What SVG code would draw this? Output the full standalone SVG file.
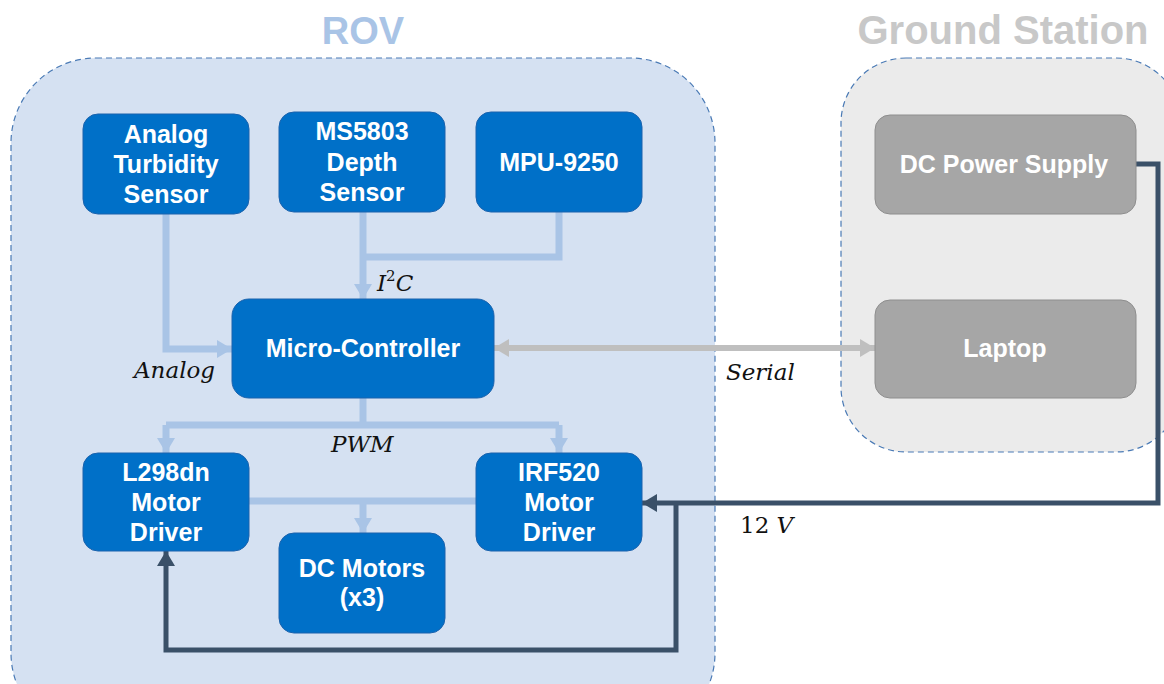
<svg xmlns="http://www.w3.org/2000/svg" width="1164" height="684" viewBox="0 0 1164 684">
<style>
.title{font-family:"Liberation Sans",Arial,sans-serif;font-weight:bold;text-anchor:middle}
.nb rect{fill:#0070c8;stroke:#1a62ad;stroke-width:1}
.ng rect{fill:#a6a6a6;stroke:#8e8e8e;stroke-width:1}
.nt{font-family:"Liberation Sans",Arial,sans-serif;font-weight:bold;font-size:25px;fill:#ffffff;text-anchor:middle}
.lbl{font-family:"DejaVu Serif","Liberation Serif",serif;font-style:italic;font-size:23px;fill:#111111}
.lt{fill:none;stroke:#a9c4e6;stroke-width:7}
.dk{fill:none;stroke:#3a5068;stroke-width:5}
.sr{fill:none;stroke:#bfbfbf;stroke-width:6}
</style>
<defs>
<marker id="aL" markerUnits="userSpaceOnUse" markerWidth="16" markerHeight="18" refX="15" refY="9" orient="auto"><path d="M0,0 L15,9 L0,18 z" fill="#a9c4e6"/></marker>
<marker id="aD" markerUnits="userSpaceOnUse" markerWidth="16" markerHeight="18" refX="15" refY="9" orient="auto"><path d="M0,0 L15,9 L0,18 z" fill="#3a5068"/></marker>
<marker id="aS" markerUnits="userSpaceOnUse" markerWidth="16" markerHeight="18" refX="15" refY="9" orient="auto-start-reverse"><path d="M0,0 L15,9 L0,18 z" fill="#bfbfbf"/></marker>
</defs>
<rect width="1164" height="684" fill="#ffffff"/>
<g id="rov-container">
<rect x="11" y="58" width="704" height="680" rx="85" ry="85" fill="#d5e1f2" stroke="#4a7ab5" stroke-width="1.2" stroke-dasharray="6,4"/>
<text class="title" x="363" y="44" font-size="38" fill="#a9c4e6">ROV</text>
</g>
<g id="ground-container">
<rect x="841" y="58" width="340" height="394" rx="65" ry="65" fill="#ebebeb" stroke="#4a7ab5" stroke-width="1.2" stroke-dasharray="6,4"/>
<text class="title" x="1003" y="44" font-size="40" fill="#c8c8c8">Ground Station</text>
</g>
<g id="connectors">
<path class="lt" d="M166,214 V349 H232" marker-end="url(#aL)"/>
<path class="lt" d="M559,212 V257 H363"/>
<path class="lt" d="M363,212 V299" marker-end="url(#aL)"/>
<path class="lt" d="M363,398 V425"/>
<path class="lt" d="M166,425 H559"/>
<path class="lt" d="M166,425 V453" marker-end="url(#aL)"/>
<path class="lt" d="M559,425 V453" marker-end="url(#aL)"/>
<path class="lt" d="M249,501 H476"/>
<path class="lt" d="M363,501 V533" marker-end="url(#aL)"/>
<path class="sr" d="M494,348 H875" marker-start="url(#aS)" marker-end="url(#aS)"/>
<path class="dk" d="M1136,164 H1158 V503 H642" marker-end="url(#aD)"/>
<path class="dk" d="M676,503 V650 H166 V551" marker-end="url(#aD)"/>
<text class="lbl" x="377" y="291">I<tspan font-size="15" dy="-10" font-style="normal">2</tspan><tspan dy="10">C</tspan></text>
<text class="lbl" x="134" y="378">Analog</text>
<text class="lbl" x="331" y="452">PWM</text>
<text class="lbl" x="726" y="380">Serial</text>
<text class="lbl" x="740" y="533"><tspan font-style="normal">12 </tspan>V</text>
</g>
<g id="turbidity" class="nb"><rect x="83" y="114" width="166" height="100" rx="15"/>
<text class="nt" x="166" y="143">Analog</text><text class="nt" x="166" y="173">Turbidity</text><text class="nt" x="166" y="203">Sensor</text></g>
<g id="ms5803" class="nb"><rect x="279" y="112" width="166" height="100" rx="15"/>
<text class="nt" x="362" y="140">MS5803</text><text class="nt" x="362" y="171">Depth</text><text class="nt" x="362" y="201">Sensor</text></g>
<g id="mpu9250" class="nb"><rect x="476" y="112" width="166" height="100" rx="15"/>
<text class="nt" x="559" y="171">MPU-9250</text></g>
<g id="microcontroller" class="nb"><rect x="232" y="299" width="262" height="99" rx="17"/>
<text class="nt" x="363" y="357">Micro-Controller</text></g>
<g id="l298dn" class="nb"><rect x="83" y="453" width="166" height="98" rx="15"/>
<text class="nt" x="166" y="481">L298dn</text><text class="nt" x="166" y="511">Motor</text><text class="nt" x="166" y="541">Driver</text></g>
<g id="irf520" class="nb"><rect x="476" y="453" width="166" height="98" rx="15"/>
<text class="nt" x="559" y="481">IRF520</text><text class="nt" x="559" y="511">Motor</text><text class="nt" x="559" y="541">Driver</text></g>
<g id="dcmotors" class="nb"><rect x="279" y="533" width="166" height="100" rx="15"/>
<text class="nt" x="362" y="577">DC Motors</text><text class="nt" x="362" y="606">(x3)</text></g>
<g id="dcpower" class="ng"><rect x="875" y="115" width="261" height="99" rx="15"/>
<text class="nt" x="1004" y="173">DC Power Supply</text></g>
<g id="laptop" class="ng"><rect x="875" y="300" width="261" height="98" rx="15"/>
<text class="nt" x="1005" y="357">Laptop</text></g>
</svg>
